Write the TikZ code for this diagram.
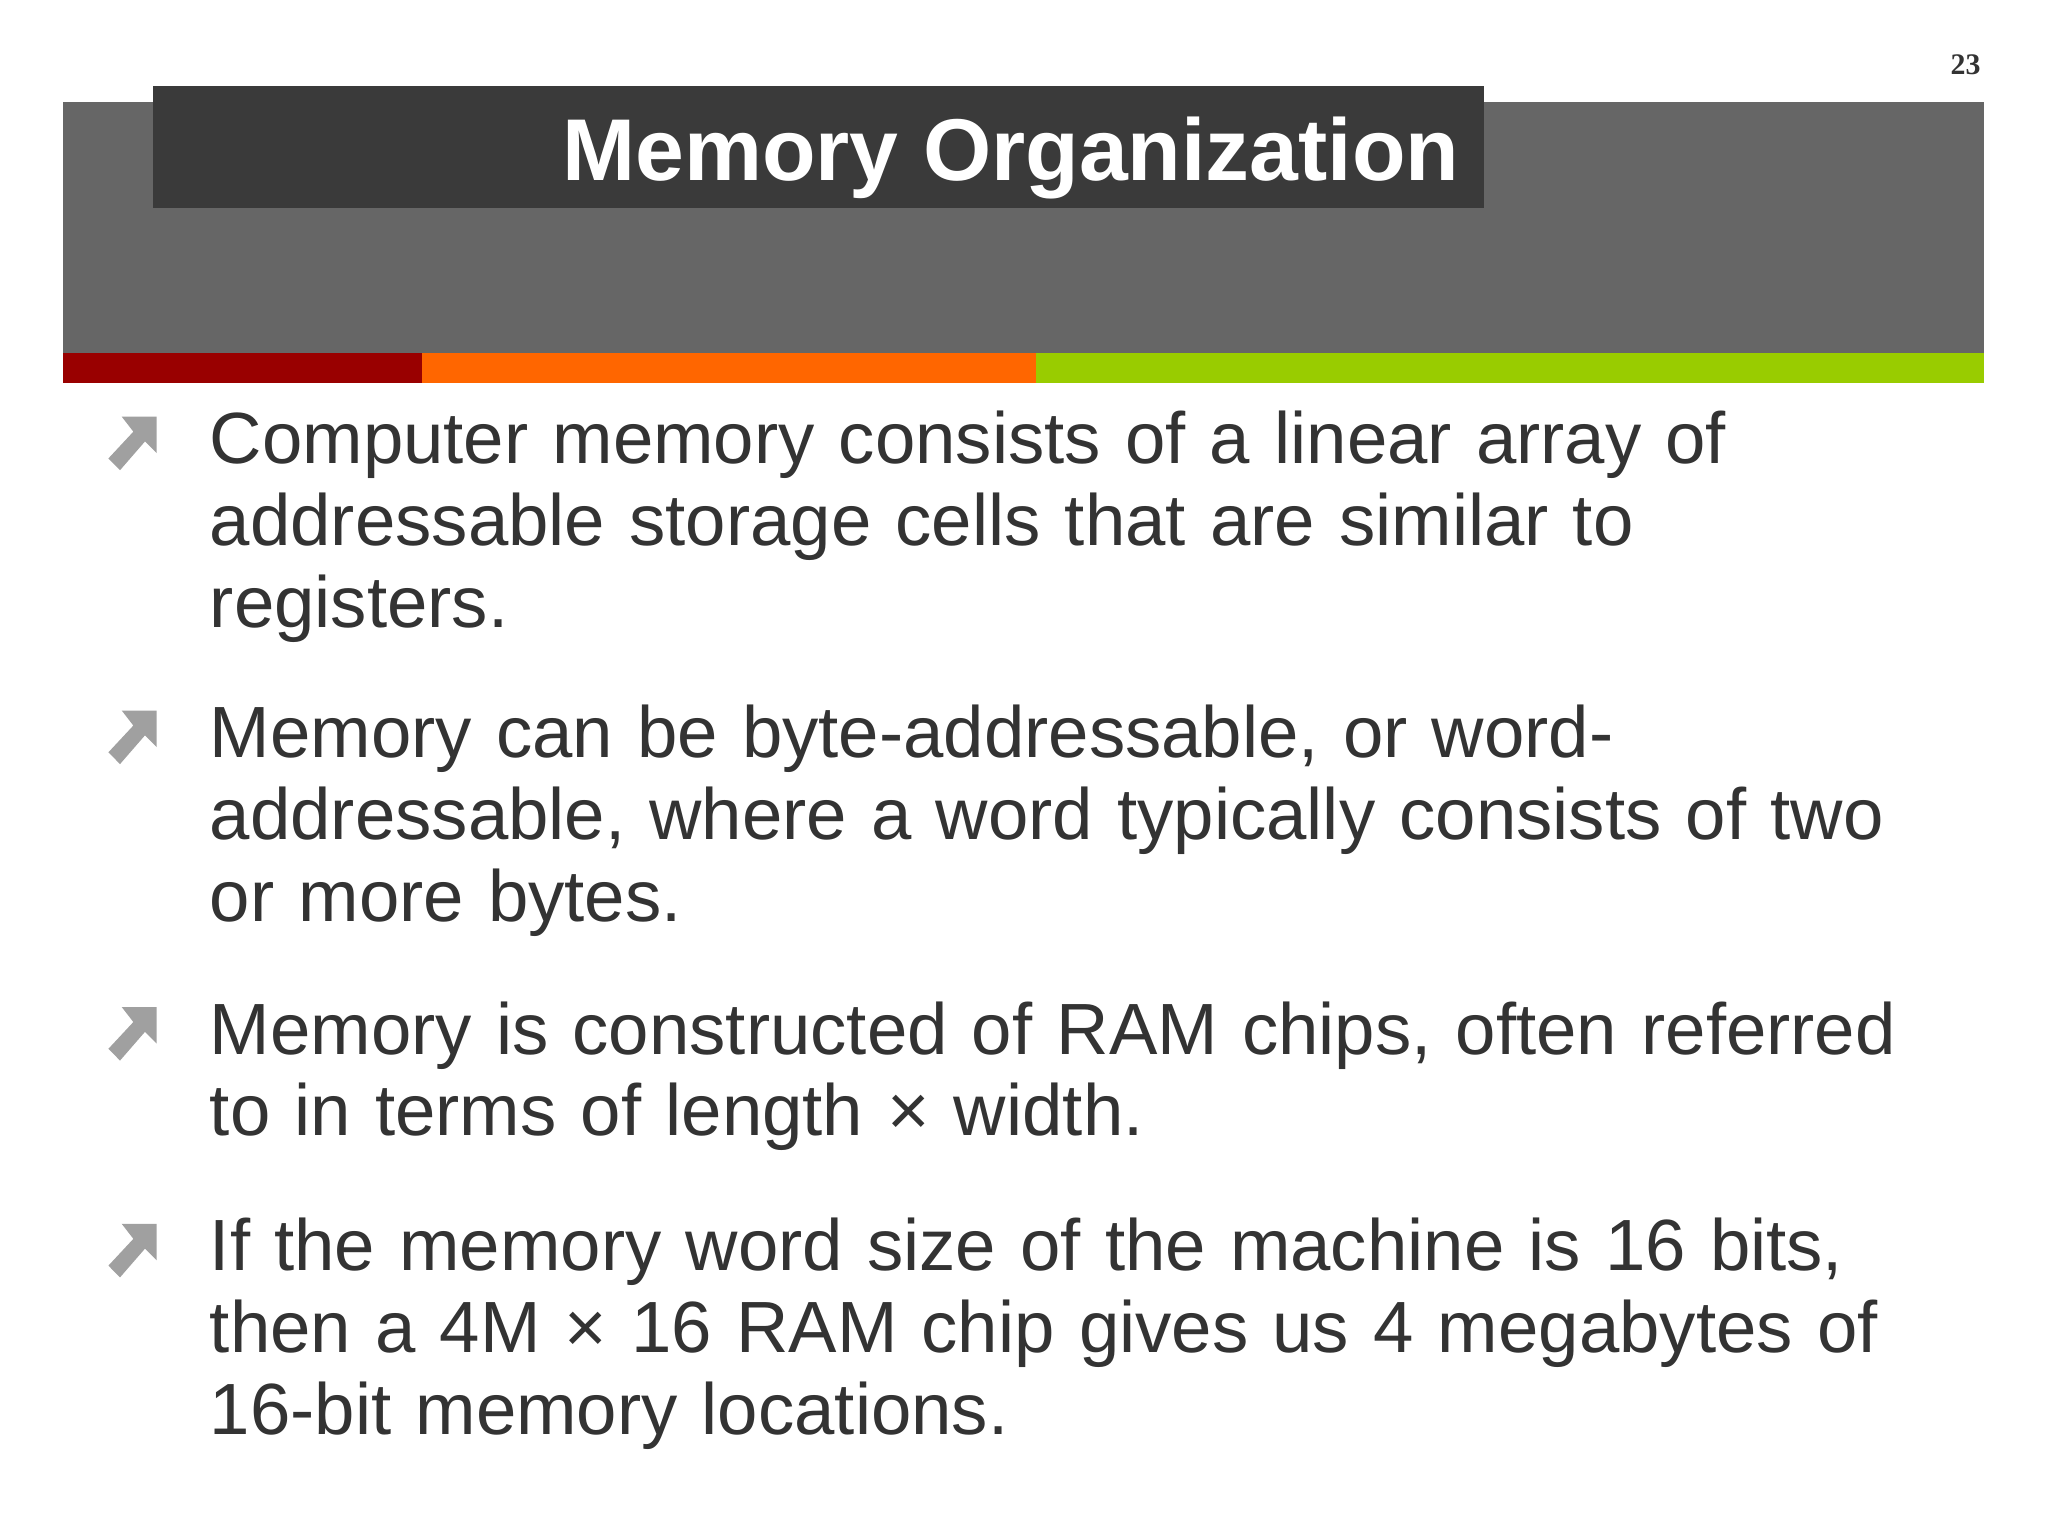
\documentclass[tikz,border=0pt]{standalone}
\usepackage{fontspec}
\setmainfont{Liberation Sans}
\newfontfamily\serifnum{Liberation Serif}
\definecolor{hdr}{HTML}{666666}
\definecolor{ttl}{HTML}{3A3A3A}
\definecolor{bred}{HTML}{990000}
\definecolor{borange}{HTML}{FF6600}
\definecolor{bgreen}{HTML}{99CC00}
\definecolor{txt}{HTML}{333333}
\definecolor{icon}{HTML}{A0A0A0}
\tikzset{x=0.01cm,y=-0.01cm,
 bodytext/.style={anchor=base west,inner sep=0pt,align=left,text=txt,
   font=\fontsize{15.8pt}{17.8pt}\selectfont,text width=14cm}}
\newcommand{\bicon}[1]{%
 \fill[icon] (93.2,#1-36) -- (120,#1-36) -- (120,#1-8) -- (111,#1-17) -- (91.9,#1+5) -- (83,#1-4) -- (102.1,#1-24.5) -- cycle;}
\begin{document}
\begin{tikzpicture}
\useasboundingbox (0,0) rectangle (1568,1176);
\fill[white] (0,0) rectangle (1568,1176);
\fill[hdr] (48,78) rectangle (1519,270);
\fill[ttl] (117,66) rectangle (1136,159);
\fill[bred] (48,270) rectangle (323,293);
\fill[borange] (323,270) rectangle (793,293);
\fill[bgreen] (793,270) rectangle (1519,293);
\node[anchor=base east,inner sep=0pt,text=white,font=\fontsize{19.1pt}{23pt}\selectfont\bfseries] (title) at (1118,138) {Memory Organization};
\node[anchor=base east,inner sep=0pt,font=\fontsize{6.5pt}{8pt}\selectfont\serifnum\bfseries,text=txt] (pg) at (1517,57) {23};
\bicon{355}
\bicon{580}
\bicon{807}
\bicon{973}
\node[bodytext] (b1) at (160,355) {Computer memory consists of a linear array of\\ addressable storage cells that are similar to\\ registers.};
\node[bodytext] (b2) at (160,580) {Memory can be byte-addressable, or word-\\ addressable, where a word typically consists of two\\ or more bytes.};
\node[bodytext] (b3) at (160,807) {Memory is constructed of RAM chips, often referred\\ to in terms of length × width.};
\node[bodytext] (b4) at (160,973) {If the memory word size of the machine is 16 bits,\\ then a 4M × 16 RAM chip gives us 4 megabytes of\\ 16-bit memory locations.};
\end{tikzpicture}
\end{document}
